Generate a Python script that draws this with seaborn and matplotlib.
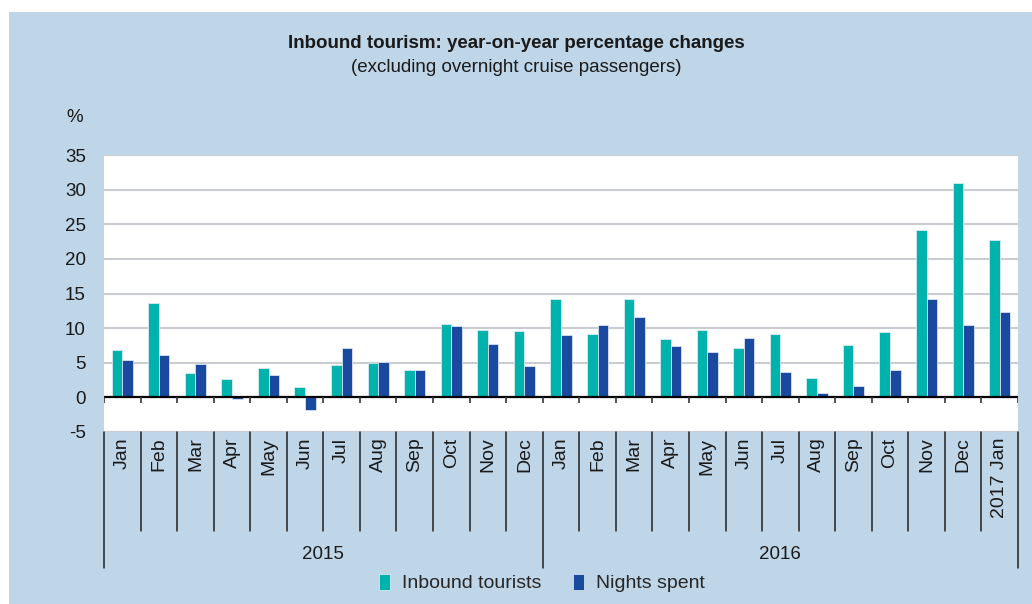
import matplotlib
matplotlib.use("Agg")
import matplotlib.pyplot as plt
import matplotlib.patches as mpatches
import seaborn as sns
import pandas as pd

months = ["Jan", "Feb", "Mar", "Apr", "May", "Jun", "Jul", "Aug", "Sep", "Oct", "Nov", "Dec",
          "Jan", "Feb", "Mar", "Apr", "May", "Jun", "Jul", "Aug", "Sep", "Oct", "Nov", "Dec",
          "2017 Jan"]
years = ["2015", "2016"]
year_span = [12, 13]  # number of month columns under each year label

tourists = [6.8, 13.6, 3.5, 2.6, 4.2, 1.5, 4.7, 4.9, 3.9, 10.6, 9.8, 9.6,
            14.2, 9.2, 14.2, 8.4, 9.8, 7.2, 9.1, 2.8, 7.5, 9.4, 24.2, 30.9, 22.7]
nights = [5.4, 6.1, 4.8, -0.2, 3.3, -1.8, 7.2, 5.1, 3.9, 10.3, 7.7, 4.5,
          9.0, 10.4, 11.6, 7.4, 6.6, 8.6, 3.6, 0.7, 1.6, 3.9, 14.2, 10.4, 12.3]

BG = "#bfd5e8"
TEAL = "#00b2ac"
BLUE = "#1a4a9f"

sns.set_theme(style="white")
plt.rcParams["font.family"] = ["Liberation Sans", "DejaVu Sans"]
plt.rcParams["font.size"] = 13.5
plt.rcParams["axes.unicode_minus"] = False

pos = list(range(len(months)))
df = pd.DataFrame({
    "pos": pos * 2,
    "value": tourists + nights,
    "series": ["Inbound tourists"] * len(pos) + ["Nights spent"] * len(pos),
})

fig = plt.figure(figsize=(10.32, 6.04), dpi=100)
fig.patch.set_facecolor("white")
fig.patches.append(mpatches.Rectangle((9 / 1032, 0), 1, 1 - 12 / 604, transform=fig.transFigure,
                                      facecolor=BG, edgecolor="none", zorder=-10))
ax = fig.add_axes([104 / 1032, 1 - 432 / 604, 914 / 1032, 277 / 604])
ax.set_facecolor("white")

sns.barplot(data=df, x="pos", y="value", hue="series", order=pos,
            palette=[TEAL, BLUE], saturation=1, width=0.58, native_scale=True,
            edgecolor="#e8f0f6", linewidth=0.5, ax=ax, zorder=3)

ax.set_xlim(-0.5, len(months) - 0.5)
ax.set_ylim(-5, 35)
ax.set_yticks(range(-5, 36, 5))
ax.set_xticks([])
ax.set_xlabel("")
ax.set_ylabel("")
ax.tick_params(axis="y", length=0, pad=13, labelsize=13.5, colors="#1a1a1a")
ax.yaxis.grid(True, color="#c9cdd1", linewidth=1.5, zorder=0)
for s in ax.spines.values():
    s.set_visible(False)

ax.axhline(0, color="black", linewidth=1.6, zorder=4)
bounds = [i - 0.5 for i in range(len(months) + 1)]
ax.vlines(bounds, -0.75, 0, color="#333333", linewidth=1.2, zorder=4)

xt = ax.get_xaxis_transform()
for i, m in enumerate(months):
    ax.text(i, -0.02, m, transform=xt, rotation=90, ha="center", va="top",
            fontsize=14, color="#1a1a1a")
year_bounds = [-0.5]
for n in year_span:
    year_bounds.append(year_bounds[-1] + n)
for b in bounds:
    low = -0.491 if b in year_bounds else -0.357
    ax.plot([b, b], [0, low], transform=xt, color="#222222", linewidth=1.1, clip_on=False)
for y, a, b in zip(years, year_bounds[:-1], year_bounds[1:]):
    ax.text((a + b) / 2, -0.444, y, transform=xt, ha="center", va="center",
            fontsize=13.5, color="#1a1a1a")

fig.text(0.5, 1 - 44 / 604, "Inbound tourism: year-on-year percentage changes",
         ha="center", va="center", fontsize=13.5, fontweight="bold", color="#1a1a1a")
fig.text(0.5, 1 - 67 / 604, "(excluding overnight cruise passengers)",
         ha="center", va="center", fontsize=13.5, color="#1a1a1a")
fig.text(75 / 1032, 1 - 118 / 604, "%", ha="center", va="center", fontsize=13.5, color="#1a1a1a")

sns.move_legend(ax, "center", bbox_to_anchor=(0.525, 1 - 583 / 604), bbox_transform=fig.transFigure,
                ncol=2, frameon=False, title=None, fontsize=14, handlelength=0.6,
                handleheight=0.9, handletextpad=0.6, columnspacing=1.6)

fig.savefig("out.png", dpi=100, facecolor=fig.get_facecolor())
